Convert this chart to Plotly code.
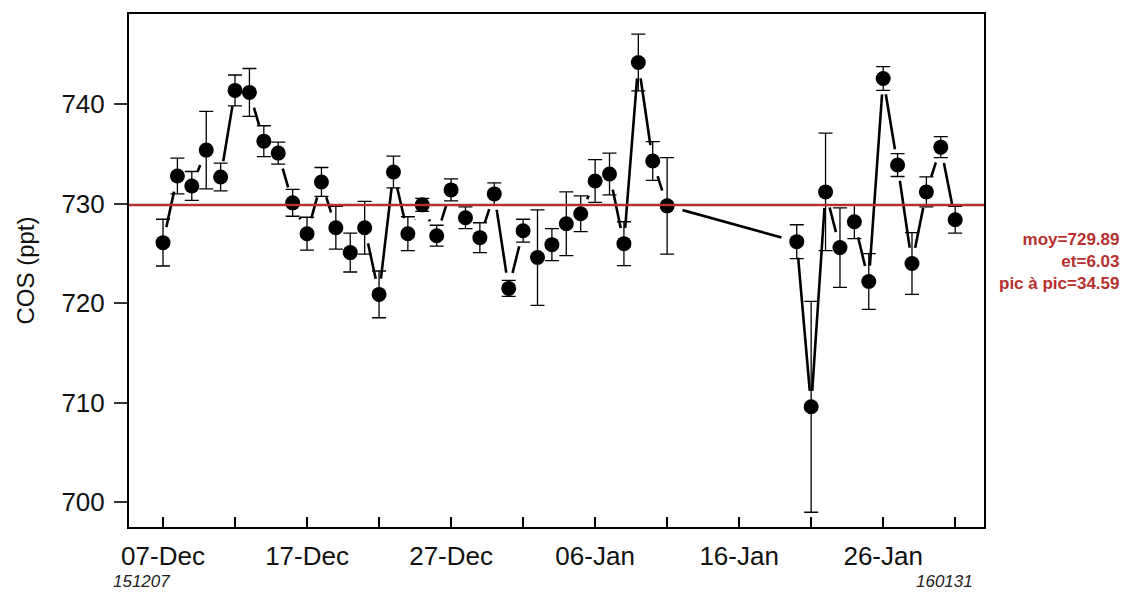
import plotly.graph_objects as go

dates = [
    "2015-12-07", "2015-12-08", "2015-12-09", "2015-12-10", "2015-12-11", "2015-12-12",
    "2015-12-13", "2015-12-14", "2015-12-15", "2015-12-16", "2015-12-17", "2015-12-18",
    "2015-12-19", "2015-12-20", "2015-12-21", "2015-12-22", "2015-12-23", "2015-12-24",
    "2015-12-25", "2015-12-26", "2015-12-27", "2015-12-28", "2015-12-29", "2015-12-30",
    "2015-12-31", "2016-01-01", "2016-01-02", "2016-01-03", "2016-01-04", "2016-01-05",
    "2016-01-06", "2016-01-07", "2016-01-08", "2016-01-09", "2016-01-10", "2016-01-11",
    "2016-01-20", "2016-01-21", "2016-01-22", "2016-01-23", "2016-01-24", "2016-01-25",
    "2016-01-26", "2016-01-27", "2016-01-28", "2016-01-29", "2016-01-30", "2016-01-31",
]
cos_ppt = [
    726.1, 732.8, 731.8, 735.4, 732.7, 741.4, 741.2, 736.3, 735.1, 730.1,
    727.0, 732.2, 727.6, 725.1, 727.6, 720.9, 733.2, 727.0, 729.9, 726.8,
    731.4, 728.6, 726.6, 731.0, 721.5, 727.3, 724.6, 725.9, 728.0, 729.0,
    732.3, 733.0, 726.0, 744.2, 734.3, 729.8,
    726.2, 709.6, 731.2, 725.6, 728.2, 722.2, 742.6, 733.9, 724.0, 731.2, 735.7, 728.4,
]
cos_err = [
    2.35, 1.8, 1.45, 3.9, 1.4, 1.55, 2.4, 1.55, 1.1, 1.35,
    1.65, 1.45, 2.15, 1.95, 2.65, 2.35, 1.6, 1.7, 0.65, 1.05,
    1.1, 1.1, 1.5, 1.1, 0.8, 1.15, 4.8, 1.6, 3.2, 1.8,
    2.15, 2.1, 2.2, 2.85, 1.95, 4.85,
    1.7, 10.6, 5.9, 4.0, 1.7, 2.8, 1.2, 1.15, 3.1, 1.5, 1.05, 1.35,
]
mean_value = 729.89
stats_text = ["moy=729.89", "et=6.03", "pic à pic=34.59"]
x_tick_vals = ["2015-12-07", "2015-12-17", "2015-12-27", "2016-01-06", "2016-01-16", "2016-01-26"]
x_tick_text = ["07-Dec", "17-Dec", "27-Dec", "06-Jan", "16-Jan", "26-Jan"]
y_tick_vals = [700, 710, 720, 730, 740]
start_label = "151207"
end_label = "160131"

RED = "#B5302E"
FONT = "Liberation Sans, Arial, sans-serif"

fig = go.Figure()

# connecting line
fig.add_trace(go.Scatter(
    x=dates, y=cos_ppt, mode="lines",
    line=dict(color="black", width=2.6), hoverinfo="skip", showlegend=False,
))
# white halos to produce the "b"-type gaps around points
fig.add_trace(go.Scatter(
    x=dates, y=cos_ppt, mode="markers",
    marker=dict(color="white", size=32, line=dict(width=0)),
    hoverinfo="skip", showlegend=False,
))
# points with error bars
fig.add_trace(go.Scatter(
    x=dates, y=cos_ppt, mode="markers",
    marker=dict(color="black", size=15, line=dict(width=0)),
    error_y=dict(type="data", array=cos_err, visible=True, color="black",
                 thickness=1.3, width=7),
    showlegend=False,
))

fig.add_shape(type="line", xref="paper", x0=0, x1=1, yref="y",
              y0=mean_value, y1=mean_value, line=dict(color=RED, width=2.5),
              layer="above")

fig.add_annotation(
    text="<b>" + "<br>".join(stats_text) + "</b>",
    xref="paper", yref="paper", x=1.161, y=0.5166,
    xanchor="right", yanchor="middle", align="right", showarrow=False,
    font=dict(family=FONT, size=17, color=RED),
)
fig.add_annotation(
    text="<i>" + start_label + "</i>", xref="paper", yref="paper",
    x=-0.021, y=-0.107, xanchor="left", yanchor="middle", showarrow=False,
    font=dict(family=FONT, size=17, color="#222222"),
)
fig.add_annotation(
    text="<i>" + end_label + "</i>", xref="paper", yref="paper",
    x=0.989, y=-0.107, xanchor="right", yanchor="middle", showarrow=False,
    font=dict(family=FONT, size=17, color="#222222"),
)

fig.update_layout(
    width=1126, height=598,
    margin=dict(l=129, r=142, t=14, b=71),
    paper_bgcolor="white", plot_bgcolor="white",
    font=dict(family=FONT, color="#111111"),
    showlegend=False,
    xaxis=dict(
        type="date",
        range=["2015-12-04 15:20", "2016-02-02 00:00"],
        tickmode="array", tickvals=x_tick_vals, ticktext=x_tick_text,
        ticks="inside", ticklen=10, tickwidth=1.5, tickcolor="black",
        minor=dict(tickmode="linear", tick0="2015-12-07", dtick=5 * 86400000,
                   ticks="inside", ticklen=10, tickwidth=1.5, tickcolor="black"),
        showline=True, linecolor="black", linewidth=2, mirror=True,
        showgrid=False, zeroline=False,
        tickfont=dict(family=FONT, size=26, color="#111111"),
        ticklabelstandoff=5,
    ),
    yaxis=dict(
        range=[697.52, 749.08],
        tickmode="array", tickvals=y_tick_vals,
        ticks="outside", ticklen=13, tickwidth=1.5, tickcolor="#333333",
        showline=True, linecolor="black", linewidth=2, mirror=True,
        showgrid=False, zeroline=False,
        tickfont=dict(family=FONT, size=26, color="#111111"),
        ticklabelstandoff=4,
        title=dict(text="COS (ppt)", font=dict(family=FONT, size=24, color="#111111"),
                   standoff=20),
    ),
)

fig.write_html("out.html", config={"displayModeBar": False},
               post_script="document.body.style.margin='0';")
